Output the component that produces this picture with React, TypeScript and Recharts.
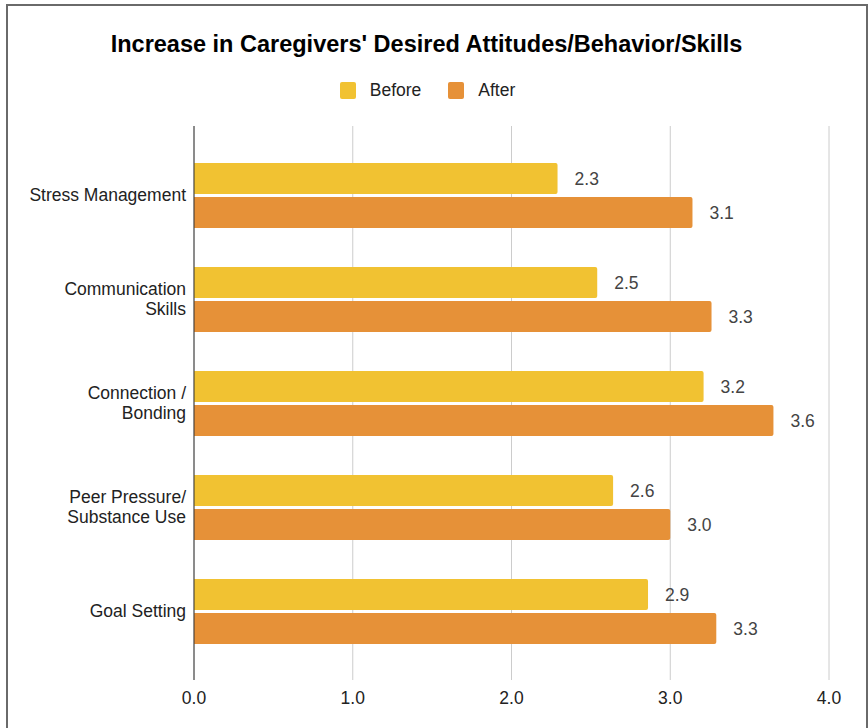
import { BarChart, Bar, XAxis, YAxis, CartesianGrid, LabelList } from 'recharts';

const categories = [
  'Stress Management',
  'Communication\nSkills',
  'Connection /\nBonding',
  'Peer Pressure/\nSubstance Use',
  'Goal Setting',
];
const before = [2.29, 2.54, 3.21, 2.64, 2.86];
const after = [3.14, 3.26, 3.65, 3.0, 3.29];
const xTicks = [0, 1, 2, 3, 4];

const YELLOW = '#f1c232';
const ORANGE = '#e69138';
const FONT = '"Liberation Sans", Arial, sans-serif';
const FS = 17.5;

const data = categories.map((name, i) => ({ name, before: before[i], after: after[i] }));

// 複数行のカテゴリラベル
function CategoryTick(props: any) {
  const { x, y, payload } = props;
  const lines = String(payload.value).split('\n');
  const lh = 20;
  const start = -((lines.length - 1) * lh) / 2;
  return (
    <text x={x} y={y} textAnchor="end" fontFamily={FONT} fontSize={FS} fill="#222">
      {lines.map((l, i) => (
        <tspan key={i} x={x} y={y + start + i * lh} dy="0.35em">
          {l}
        </tspan>
      ))}
    </text>
  );
}

const legendItems = [
  { label: 'Before', color: YELLOW },
  { label: 'After', color: ORANGE },
];

export default function App() {
  return (
    <div style={{ position: 'absolute', left: 0, top: 0, width: 868, height: 728, background: '#fff', overflow: 'hidden' }}>
      <style>{'body{margin:0;overflow:hidden}'}</style>
      <div
        style={{
          position: 'absolute',
          left: 6,
          top: 4,
          width: 858,
          height: 760,
          border: '2px solid #6a6a6a',
        }}
      />
      <div
        style={{
          position: 'absolute',
          left: 0,
          top: 30,
          width: 853,
          textAlign: 'center',
          fontFamily: FONT,
          fontWeight: 'bold',
          fontSize: 23.5,
          lineHeight: '28px',
          color: '#000',
        }}
      >
        Increase in Caregivers' Desired Attitudes/Behavior/Skills
      </div>
      <div
        style={{
          position: 'absolute',
          left: 0,
          top: 80,
          width: 855,
          display: 'flex',
          justifyContent: 'center',
          gap: 27,
          fontFamily: FONT,
          fontSize: FS,
          lineHeight: '20px',
          color: '#222',
        }}
      >
        {legendItems.map((it) => (
          <div key={it.label} style={{ display: 'flex', alignItems: 'center' }}>
            <span style={{ width: 16, height: 17, background: it.color, borderRadius: 2, marginRight: 14 }} />
            {it.label}
          </div>
        ))}
      </div>
      <div style={{ position: 'absolute', left: 0, top: 0 }}>
        <BarChart
          width={868}
          height={728}
          data={data}
          layout="vertical"
          margin={{ top: 126, right: 39, bottom: 18, left: 0 }}
          barCategoryGap={19}
          barGap={3}
        >
          <CartesianGrid horizontal={false} stroke="#cccccc" />
          <XAxis
            type="number"
            domain={[0, 4]}
            ticks={xTicks}
            tickFormatter={(v: number) => v.toFixed(1)}
            axisLine={false}
            tickLine={false}
            tickMargin={6}
            height={30}
            tick={{ fontFamily: FONT, fontSize: FS, fill: '#222' }}
          />
          <YAxis
            type="category"
            dataKey="name"
            width={194}
            tick={<CategoryTick />}
            tickLine={false}
            tickMargin={2}
            axisLine={{ stroke: '#333' }}
            padding={{ top: 17, bottom: 17 }}
          />
          <Bar dataKey="before" fill={YELLOW} barSize={31} radius={[0, 2, 2, 0]} isAnimationActive={false}>
            <LabelList
              dataKey="before"
              position="right"
              offset={17}
              formatter={(v: any) => Number(v).toFixed(1)}
              style={{ fontFamily: FONT, fontSize: FS, fill: '#444' }}
            />
          </Bar>
          <Bar dataKey="after" fill={ORANGE} barSize={31} radius={[0, 2, 2, 0]} isAnimationActive={false}>
            <LabelList
              dataKey="after"
              position="right"
              offset={17}
              formatter={(v: any) => Number(v).toFixed(1)}
              style={{ fontFamily: FONT, fontSize: FS, fill: '#444' }}
            />
          </Bar>
        </BarChart>
      </div>
    </div>
  );
}
